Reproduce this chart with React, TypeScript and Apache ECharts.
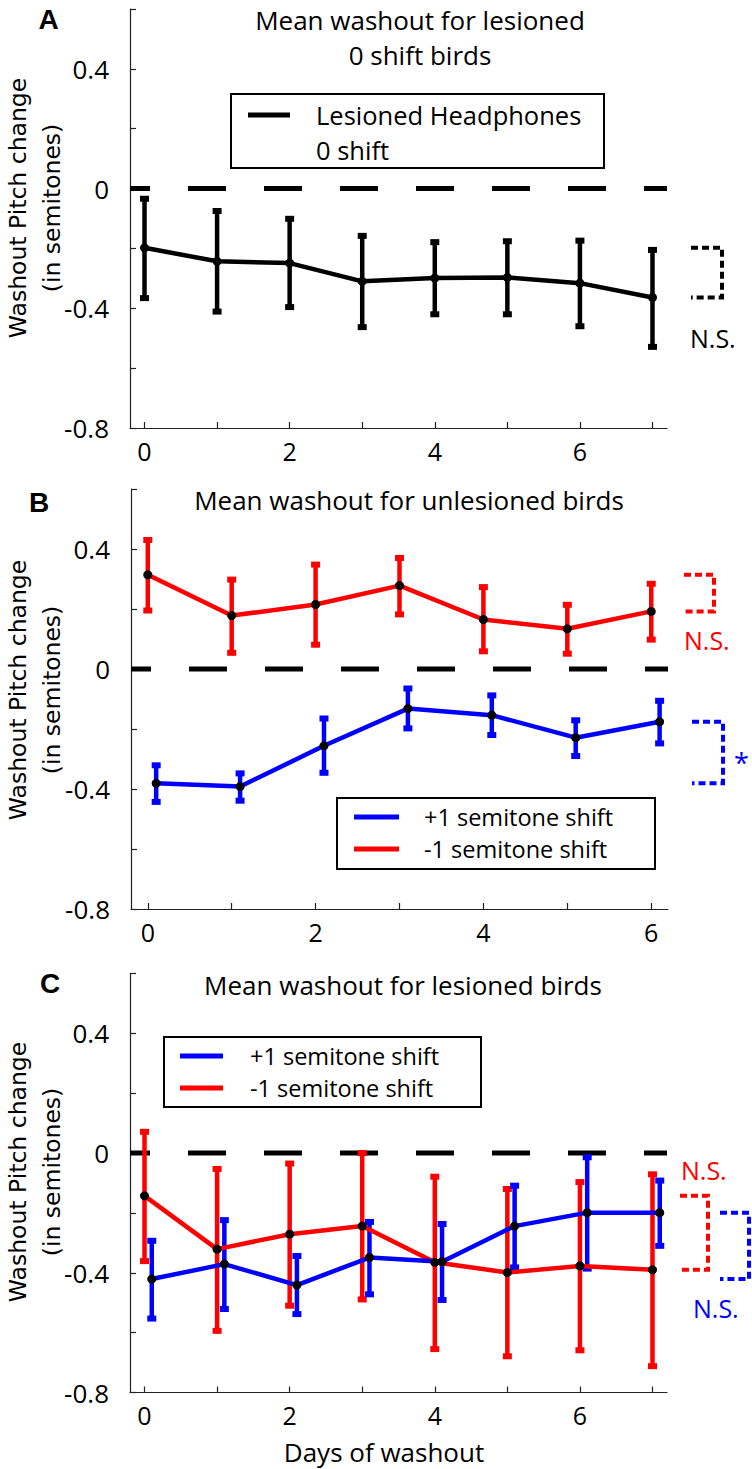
import React, { useEffect, useRef } from "react";
import * as echarts from "echarts";

const RED = "#ff0000";
const BLUE = "#0000ff";
const BLACK = "#000000";
const FONT = "'Open Sans', 'Noto Sans', sans-serif";
const YFONT = "'DejaVu Sans', Verdana, sans-serif";

// ---------- Panel A: lesioned, headphones, 0 shift ----------
const daysA = [0, 1, 2, 3, 4, 5, 6, 7];
const meanA = [-0.198, -0.243, -0.249, -0.31, -0.299, -0.297, -0.316, -0.364];
const upperA = [-0.034, -0.075, -0.101, -0.158, -0.179, -0.176, -0.174, -0.205];
const lowerA = [-0.366, -0.411, -0.396, -0.463, -0.42, -0.42, -0.46, -0.529];

// ---------- Panel B: unlesioned ----------
const daysB = [0, 1, 2, 3, 4, 5, 6];
const meanBRed = [0.314, 0.178, 0.215, 0.278, 0.165, 0.134, 0.192];
const upperBRed = [0.43, 0.298, 0.348, 0.37, 0.273, 0.214, 0.284];
const lowerBRed = [0.195, 0.054, 0.081, 0.182, 0.059, 0.051, 0.098];
const meanBBlue = [-0.381, -0.392, -0.256, -0.132, -0.154, -0.229, -0.176];
const upperBBlue = [-0.321, -0.348, -0.165, -0.065, -0.088, -0.171, -0.106];
const lowerBBlue = [-0.443, -0.439, -0.346, -0.198, -0.22, -0.29, -0.248];

// ---------- Panel C: lesioned ----------
const daysC = [0, 1, 2, 3, 4, 5, 6, 7];
const meanCRed = [-0.143, -0.321, -0.271, -0.244, -0.365, -0.399, -0.377, -0.39];
const upperCRed = [0.071, -0.053, -0.035, 0.0, -0.079, -0.12, -0.097, -0.071];
const lowerCRed = [-0.361, -0.594, -0.51, -0.489, -0.655, -0.679, -0.659, -0.712];
const meanCBlue = [-0.421, -0.371, -0.441, -0.349, -0.363, -0.244, -0.199, -0.199];
const upperCBlue = [-0.293, -0.224, -0.344, -0.23, -0.237, -0.109, -0.014, -0.092];
const lowerCBlue = [-0.553, -0.521, -0.538, -0.472, -0.491, -0.382, -0.386, -0.31];

// ---------- Axes ----------
const yTicks = [-0.8, -0.6, -0.4, -0.2, 0, 0.2, 0.4, 0.6];
const yLabels = [-0.8, -0.4, 0, 0.4];
const xTicks7 = [0, 1, 2, 3, 4, 5, 6, 7];
const xTicks6 = [0, 1, 2, 3, 4, 5, 6];
const xLabels = [0, 2, 4, 6];

// ---------- Texts ----------
const panelLetters = ["A", "B", "C"];
const titleA = ["Mean washout for lesioned", "0 shift birds"];
const titleB = "Mean washout for unlesioned birds";
const titleC = "Mean washout for lesioned birds";
const legendA = ["Lesioned Headphones", "0 shift"];
const legendShift = ["+1 semitone shift", "-1 semitone shift"];
const yName = "Washout Pitch change\n(in semitones)";
const xName = "Days of washout";

const BLUE_JITTER = 0.1;

const fmtY = (v: number) => (Math.abs(v) < 1e-9 ? "0" : String(Number(v.toFixed(1))));

function makeX(gi: number, max: number, ticks: number[]) {
  return {
    type: "value",
    gridIndex: gi,
    min: -0.2,
    max,
    axisLine: { show: true, onZero: false, lineStyle: { color: "#222", width: 1.2 } },
    axisTick: { show: true, inside: true, length: 6, customValues: ticks, lineStyle: { color: "#222", width: 1.2 } },
    axisLabel: {
      show: true,
      customValues: xLabels,
      margin: 10,
      fontSize: 25,
      fontFamily: FONT,
      color: "#000",
      formatter: (v: number) => String(v),
    },
    splitLine: { show: false },
  };
}

function makeY(gi: number) {
  return {
    type: "value",
    gridIndex: gi,
    min: -0.8,
    max: 0.6,
    axisLine: { show: true, onZero: false, lineStyle: { color: "#222", width: 1.2 } },
    axisTick: { show: true, inside: true, length: 6, customValues: yTicks, lineStyle: { color: "#222", width: 1.2 } },
    axisLabel: {
      show: true,
      customValues: yLabels,
      margin: 21,
      fontSize: 26,
      fontFamily: FONT,
      color: "#000",
      formatter: (v: number) => fmtY(v),
    },
    splitLine: { show: false },
  };
}

function zeroLine(gi: number, max: number) {
  return {
    type: "line",
    xAxisIndex: gi,
    yAxisIndex: gi,
    data: [
      [-0.2, 0],
      [max, 0],
    ],
    symbol: "none",
    silent: true,
    z: 1,
    lineStyle: { color: BLACK, width: 5, type: [38, 38], dashOffset: 18, cap: "butt" },
  };
}

function errSeries(gi: number, xs: number[], lo: number[], hi: number[], color: string, off: number) {
  return {
    type: "custom",
    xAxisIndex: gi,
    yAxisIndex: gi,
    clip: false,
    silent: true,
    z: 2,
    data: xs.map((x, i) => [x + off, lo[i], hi[i]]),
    renderItem: (_p: any, api: any) => {
      const x = api.value(0);
      const p1 = api.coord([x, api.value(1)]);
      const p2 = api.coord([x, api.value(2)]);
      return {
        type: "group",
        children: [
          {
            type: "line",
            shape: { x1: p1[0], y1: p1[1], x2: p2[0], y2: p2[1] },
            style: { stroke: color, lineWidth: 4.5 },
          },
          { type: "rect", shape: { x: p1[0] - 4.5, y: p1[1] - 3, width: 9, height: 6 }, style: { fill: color } },
          { type: "rect", shape: { x: p2[0] - 4.5, y: p2[1] - 3, width: 9, height: 6 }, style: { fill: color } },
        ],
      };
    },
  };
}

function meanSeries(gi: number, name: string, xs: number[], mean: number[], color: string, off: number) {
  return {
    type: "line",
    name,
    xAxisIndex: gi,
    yAxisIndex: gi,
    data: xs.map((x, i) => [x + off, mean[i]]),
    symbol: "circle",
    symbolSize: 9,
    showSymbol: true,
    z: 3,
    lineStyle: { color, width: 4.5 },
    itemStyle: { color: BLACK, borderWidth: 0 },
  };
}

function bracketSeries(
  gi: number,
  xMax: number,
  mean: number[],
  color: string,
  x0: number,
  x1: number,
  label: string,
  ldx: number,
  anchor: "top" | "bottom" | "middle",
  ldy: number,
  lsize: number
) {
  const first = mean[0];
  const last = mean[mean.length - 1];
  return {
    type: "custom",
    xAxisIndex: gi,
    yAxisIndex: gi,
    clip: false,
    silent: true,
    z: 2,
    data: [[xMax, Math.max(first, last), Math.min(first, last)]],
    renderItem: (_p: any, api: any) => {
      const a = api.coord([api.value(0), api.value(1)]);
      const b = api.coord([api.value(0), api.value(2)]);
      const ref = anchor === "top" ? a[1] : anchor === "bottom" ? b[1] : (a[1] + b[1]) / 2;
      return {
        type: "group",
        children: [
          {
            type: "polyline",
            shape: {
              points: [
                [a[0] + x0, a[1]],
                [a[0] + x1, a[1]],
                [a[0] + x1, b[1]],
                [a[0] + x0, b[1]],
              ],
            },
            style: { stroke: color, lineWidth: 4, lineDash: [7, 4], fill: "none" },
          },
          {
            type: "text",
            x: a[0] + ldx,
            y: ref + ldy,
            style: {
              text: label,
              fill: color,
              fontSize: lsize,
              fontFamily: FONT,
              align: "left",
              verticalAlign: "middle",
            },
          },
        ],
      };
    },
  };
}

function txt(text: string, x: number, y: number, size: number, opts: any = {}) {
  return {
    type: "text",
    x,
    y,
    rotation: opts.rotation || 0,
    style: {
      text,
      fill: opts.color || "#000",
      fontSize: size,
      fontFamily: opts.family || FONT,
      fontWeight: opts.weight || "normal",
      align: opts.align || "center",
      verticalAlign: "middle",
      lineHeight: opts.lineHeight,
    },
  };
}

function legendBox(x: number, y: number, w: number, h: number) {
  return { type: "rect", shape: { x, y, width: w, height: h }, style: { fill: "#fff", stroke: "#000", lineWidth: 2 }, z: 10 };
}
function legendLine(x1: number, x2: number, y: number, color: string) {
  return { type: "line", shape: { x1, y1: y, x2, y2: y }, style: { stroke: color, lineWidth: 5 }, z: 11 };
}
function legendText(text: string, x: number, y: number, size = 23.5) {
  return { ...txt(text, x, y, size, { align: "left", lineHeight: 26 }), z: 11 };
}

export default function App() {
  const ref = useRef<HTMLDivElement>(null);
  useEffect(() => {
    document.body.style.margin = "0";
    const chart = echarts.init(ref.current!, undefined, { renderer: "svg" });
    const LET = "'Liberation Sans', Arial, sans-serif";
    const option: any = {
      animation: false,
      backgroundColor: "#fff",
      grid: [
        { left: 130, top: 9, width: 537, height: 419 },
        { left: 131, top: 489, width: 537, height: 420 },
        { left: 130, top: 973.5, width: 537, height: 419 },
      ],
      xAxis: [makeX(0, 7.2, xTicks7), makeX(1, 6.2, xTicks6), makeX(2, 7.2, xTicks7)],
      yAxis: [makeY(0), makeY(1), makeY(2)],
      series: [
        // Panel A
        zeroLine(0, 7.2),
        errSeries(0, daysA, lowerA, upperA, BLACK, 0),
        meanSeries(0, "Lesioned Headphones 0 shift", daysA, meanA, BLACK, 0),
        bracketSeries(0, 7.2, meanA, BLACK, 24, 55, "N.S.", 23, "bottom", 40, 25),
        // Panel B
        zeroLine(1, 6.2),
        errSeries(1, daysB, lowerBRed, upperBRed, RED, 0),
        errSeries(1, daysB, lowerBBlue, upperBBlue, BLUE, BLUE_JITTER),
        meanSeries(1, legendShift[1], daysB, meanBRed, RED, 0),
        meanSeries(1, legendShift[0], daysB, meanBBlue, BLUE, BLUE_JITTER),
        bracketSeries(1, 6.2, meanBRed, RED, 16, 46, "N.S.", 16, "bottom", 29, 25),
        bracketSeries(1, 6.2, meanBBlue, BLUE, 24, 55, "*", 66, "middle", 10, 27),
        // Panel C
        zeroLine(2, 7.2),
        errSeries(2, daysC, lowerCRed, upperCRed, RED, 0),
        errSeries(2, daysC, lowerCBlue, upperCBlue, BLUE, BLUE_JITTER),
        meanSeries(2, legendShift[1], daysC, meanCRed, RED, 0),
        meanSeries(2, legendShift[0], daysC, meanCBlue, BLUE, BLUE_JITTER),
        bracketSeries(2, 7.2, meanCRed, RED, 13, 41, "N.S.", 14, "top", -26, 25),
        bracketSeries(2, 7.2, meanCBlue, BLUE, 53, 82, "N.S.", 26, "bottom", 29, 25),
      ],
      graphic: [
        // panel letters
        txt(panelLetters[0], 48.5, 19, 28, { weight: "bold", family: LET }),
        txt(panelLetters[1], 39, 502, 28, { weight: "bold", family: LET }),
        txt(panelLetters[2], 50, 983, 28, { weight: "bold", family: LET }),
        // titles
        txt(titleA[0], 420, 20, 26),
        txt(titleA[1], 420, 55, 26),
        txt(titleB, 409, 500, 26),
        txt(titleC, 403, 985, 26),
        // y names
        txt(yName, 35, 208, 23.5, { rotation: Math.PI / 2, family: YFONT, lineHeight: 34 }),
        txt(yName, 35, 690, 23.5, { rotation: Math.PI / 2, family: YFONT, lineHeight: 34 }),
        txt(yName, 35, 1172, 23.5, { rotation: Math.PI / 2, family: YFONT, lineHeight: 34 }),
        // x name
        txt(xName, 384, 1452, 26),
        // legend A
        legendBox(231, 94, 373, 74),
        legendLine(248, 290, 115, BLACK),
        legendText(legendA[0], 316, 115, 25.5),
        legendText(legendA[1], 316, 150, 25.5),
        // legend B
        legendBox(337, 798, 318, 71),
        legendLine(354, 399, 817, BLUE),
        legendLine(354, 399, 849, RED),
        legendText(legendShift[0], 424, 817),
        legendText(legendShift[1], 424, 849),
        // legend C
        legendBox(164, 1037, 317, 70),
        legendLine(180, 223, 1056, BLUE),
        legendLine(180, 223, 1088, RED),
        legendText(legendShift[0], 250, 1056),
        legendText(legendShift[1], 250, 1088),
      ],
    };
    chart.setOption(option);
    return () => chart.dispose();
  }, []);
  return <div ref={ref} style={{ width: 752, height: 1469 }} />;
}
